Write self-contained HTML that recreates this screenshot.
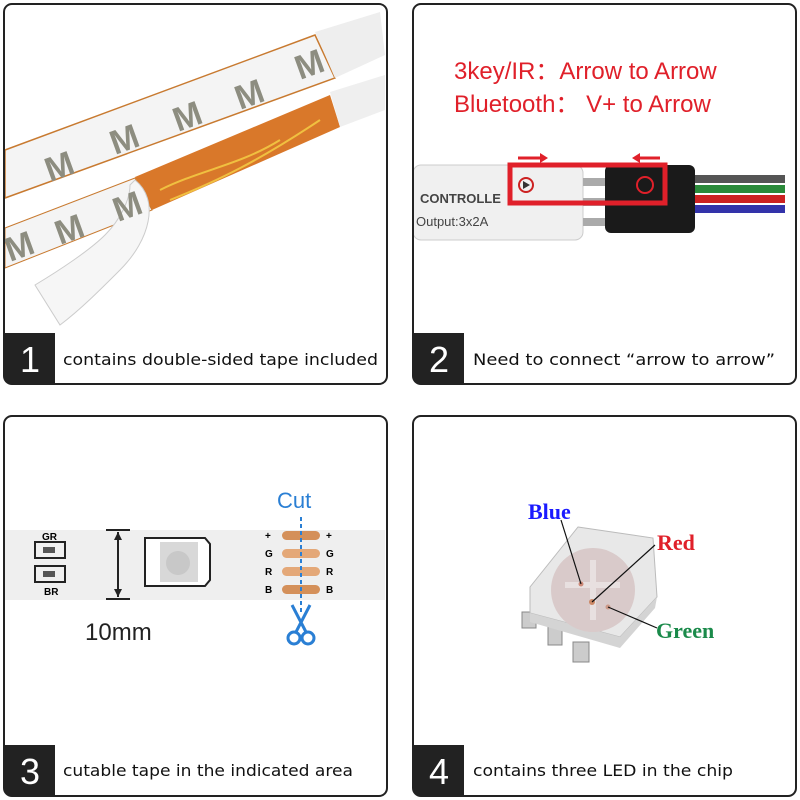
<!DOCTYPE html>
<html><head><style>body{margin:0;background:#fff}svg{display:block}</style></head><body>
<svg width="800" height="800" viewBox="0 0 800 800" xmlns="http://www.w3.org/2000/svg" font-family="Liberation Sans, sans-serif">
<rect width="800" height="800" fill="#fff"/>
<!-- Panel 1 image -->
<g>
<polygon points="5,150 315,35 335,78 5,198" fill="#f4f4f4" stroke="#c87a30" stroke-width="1.5"/>
<polygon points="315,32 380,12 385,55 335,78" fill="#eeeeee"/>
<polygon points="135,177 330,95 340,127 152,210" fill="#d9782a"/>
<path d="M160,190 C200,170 240,165 280,140 M170,200 C220,180 260,160 320,120" stroke="#f0c040" stroke-width="2" fill="none"/>
<polygon points="330,92 385,75 385,110 340,127" fill="#efefef"/>
<polygon points="5,228 135,178 152,210 5,268" fill="#f4f4f4" stroke="#c87a30" stroke-width="1"/>
<path d="M135,180 C160,200 150,240 120,270 C100,290 80,310 60,325 L35,285 C60,270 90,250 105,235 C120,220 130,200 130,185 Z" fill="#f6f6f6" stroke="#ccc"/>
<g fill="#8d8d80" font-size="34" font-weight="bold">
<text x="50" y="182" transform="rotate(-20 50 182)">M</text>
<text x="115" y="155" transform="rotate(-20 115 155)">M</text>
<text x="178" y="132" transform="rotate(-20 178 132)">M</text>
<text x="240" y="110" transform="rotate(-20 240 110)">M</text>
<text x="300" y="80" transform="rotate(-20 300 80)">M</text>
<text x="10" y="262" transform="rotate(-20 10 262)">M</text>
<text x="60" y="245" transform="rotate(-20 60 245)">M</text>
<text x="118" y="222" transform="rotate(-20 118 222)">M</text>
</g>
</g>
<!-- Panel 2 image -->
<g>
<text x="454" y="79" font-size="24" fill="#e0202a">3key/IR：Arrow to Arrow</text>
<text x="454" y="112" font-size="24" fill="#e0202a">Bluetooth：  V+ to Arrow</text>
<rect x="413" y="165" width="170" height="75" rx="8" fill="#f0f0f0" stroke="#ccc"/>
<text x="420" y="203" font-size="13" font-weight="bold" fill="#444">CONTROLLE</text>
<text x="416" y="226" font-size="13" fill="#444">Output:3x2A</text>
<rect x="583" y="178" width="25" height="8" fill="#aaa"/><rect x="583" y="198" width="25" height="8" fill="#aaa"/><rect x="583" y="218" width="25" height="8" fill="#aaa"/>
<rect x="605" y="165" width="90" height="68" rx="6" fill="#1a1a1a"/>
<rect x="695" y="175" width="90" height="8" fill="#555"/><rect x="695" y="185" width="90" height="8" fill="#2a8a3a"/><rect x="695" y="195" width="90" height="8" fill="#c22"/><rect x="695" y="205" width="90" height="8" fill="#33a"/>
<rect x="510" y="165" width="155" height="38" fill="none" stroke="#e0202a" stroke-width="5"/>
<circle cx="526" cy="185" r="7" fill="none" stroke="#c22" stroke-width="2"/><polygon points="523,181 523,189 530,185" fill="#333"/>
<circle cx="645" cy="185" r="8" fill="none" stroke="#e0202a" stroke-width="2"/>
<path d="M518,158 H540" stroke="#e0202a" stroke-width="3"/><polygon points="540,153 548,158 540,163" fill="#e0202a"/>
<path d="M640,158 H660" stroke="#e0202a" stroke-width="3"/><polygon points="640,153 632,158 640,163" fill="#e0202a"/>
</g>
<!-- Panel 3 image -->
<g>
<rect x="5" y="530" width="380" height="70" fill="#efefef"/>
<text x="42" y="540" font-size="10" font-weight="bold">GR</text>
<rect x="35" y="542" width="30" height="16" fill="none" stroke="#222" stroke-width="2"/><rect x="43" y="547" width="12" height="6" fill="#555"/>
<rect x="35" y="566" width="30" height="16" fill="none" stroke="#222" stroke-width="2"/><rect x="43" y="571" width="12" height="6" fill="#555"/>
<text x="44" y="595" font-size="10" font-weight="bold">BR</text>
<path d="M106,530 H130 M106,599 H130 M118,532 V597" stroke="#222" stroke-width="2"/>
<polygon points="114,540 118,532 122,540" fill="#222"/><polygon points="114,589 118,597 122,589" fill="#222"/>
<path d="M145,538 H205 L210,544 V580 L205,586 H145 Z" fill="#fff" stroke="#222" stroke-width="2"/>
<rect x="160" y="542" width="38" height="40" fill="#d8d8d8"/><circle cx="178" cy="563" r="12" fill="#c8c8c8"/>
<g font-size="10" font-weight="bold"><text x="265" y="539">+</text><text x="265" y="557">G</text><text x="265" y="575">R</text><text x="265" y="593">B</text>
<text x="326" y="539">+</text><text x="326" y="557">G</text><text x="326" y="575">R</text><text x="326" y="593">B</text></g>
<rect x="282" y="531" width="38" height="9" rx="4.5" fill="#d4905a"/><rect x="282" y="549" width="38" height="9" rx="4.5" fill="#e4a878"/><rect x="282" y="567" width="38" height="9" rx="4.5" fill="#e4a878"/><rect x="282" y="585" width="38" height="9" rx="4.5" fill="#d4905a"/>
<path d="M301,517 V615" stroke="#2a7fd4" stroke-width="2" stroke-dasharray="4,3"/>
<text x="277" y="508" font-size="22" fill="#2a7fd4">Cut</text>
<path d="M292,605 L306,632 M310,605 L296,632" stroke="#2a7fd4" stroke-width="3"/>
<circle cx="294" cy="638" r="6" fill="none" stroke="#2a7fd4" stroke-width="3"/><circle cx="308" cy="638" r="6" fill="none" stroke="#2a7fd4" stroke-width="3"/>
<text x="85" y="640" font-size="24" fill="#222">10mm</text>
</g>
<!-- Panel 4 image -->
<g>
<rect x="522" y="612" width="14" height="16" fill="#ccc" stroke="#888"/><rect x="548" y="627" width="14" height="18" fill="#ccc" stroke="#888"/><rect x="573" y="642" width="16" height="20" fill="#ccc" stroke="#888"/>
<polygon points="578,527 653,538 657,597 620,637 530,613 530,587" fill="#e8e8e8" stroke="#bbb"/>
<polygon points="530,613 620,637 657,597 655,608 620,648 530,622" fill="#d4d4d4"/>
<circle cx="593" cy="590" r="42" fill="#d9caca"/>
<path d="M565,585 L620,585 M593,560 V620" stroke="#e8e0e0" stroke-width="6"/>
<circle cx="581" cy="584" r="2.5" fill="#c87"/><circle cx="592" cy="602" r="3" fill="#c86"/><circle cx="608" cy="607" r="2.5" fill="#c98"/>
<path d="M561,520 L581,584 M655,545 L592,602 M657,628 L608,607" stroke="#111" stroke-width="1.2"/>
<g font-family="Liberation Serif, serif" font-weight="bold" font-size="22">
<text x="528" y="519" fill="#1a1aff">Blue</text><text x="657" y="550" fill="#e0202a">Red</text><text x="656" y="638" fill="#1a8a4a">Green</text></g>
</g>
<!-- Panel frames -->
<g fill="none" stroke="#222" stroke-width="2">
<rect x="4" y="4" width="383" height="380" rx="8"/>
<rect x="413" y="4" width="383" height="380" rx="8"/>
<rect x="4" y="416" width="383" height="380" rx="8"/>
<rect x="413" y="416" width="383" height="380" rx="8"/>
</g>
<g fill="#222">
<path d="M4,333 H55 V384 H12 Q4,384 4,376 Z"/>
<path d="M413,333 H464 V384 H421 Q413,384 413,376 Z"/>
<path d="M4,745 H55 V796 H12 Q4,796 4,788 Z"/>
<path d="M413,745 H464 V796 H421 Q413,796 413,788 Z"/>
</g>
<g fill="#fff" font-size="36" text-anchor="middle">
<text x="30" y="372">1</text><text x="439" y="372">2</text><text x="30" y="784">3</text><text x="439" y="784">4</text>
</g>
<g fill="#111" font-family="DejaVu Sans, sans-serif" font-size="16">
<text x="63" y="365" textLength="315" lengthAdjust="spacingAndGlyphs">contains double-sided tape included</text>
<text x="473" y="365" textLength="302" lengthAdjust="spacingAndGlyphs">Need to connect  “arrow to arrow”</text>
<text x="63" y="776" textLength="290" lengthAdjust="spacingAndGlyphs">cutable tape in the indicated area</text>
<text x="473" y="776" textLength="260" lengthAdjust="spacingAndGlyphs">contains three LED in the chip</text>
</g>
</svg>
</body></html>
